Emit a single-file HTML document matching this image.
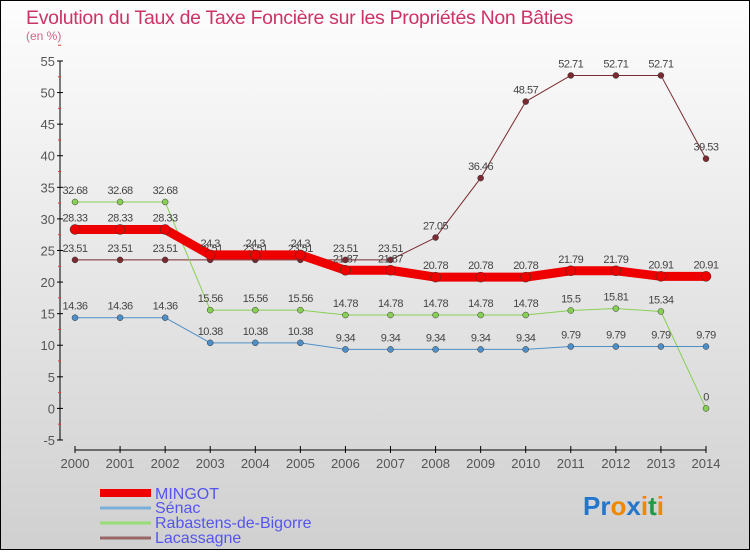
<!DOCTYPE html>
<html><head><meta charset="utf-8"><style>
body{margin:0;width:750px;height:550px;overflow:hidden;font-family:"Liberation Sans","DejaVu Sans",sans-serif}
svg text{font-family:"Liberation Sans","DejaVu Sans",sans-serif}
</style></head><body>
<svg width="750" height="550" xmlns="http://www.w3.org/2000/svg">
<defs><linearGradient id="bg" x1="0" y1="0" x2="0" y2="1"><stop offset="0" stop-color="#fdfdfd"/><stop offset="1" stop-color="#d0d0d0"/></linearGradient></defs>
<rect x="0.5" y="0.5" width="749" height="549" fill="url(#bg)" stroke="#000"/>
<text x="26" y="24" font-size="19.5" fill="#cc3366" letter-spacing="-0.3">Evolution du Taux de Taxe Foncière sur les Propriétés Non Bâties</text>
<text x="26" y="40" font-size="12" fill="#cc6688">(en %)</text>
<g id="axes"></g><g id="series"></g>
<g id="legend"></g>
<g font-size="26" font-weight="bold">
<text x="583" y="515"><tspan fill="#2277cc">Pr</tspan><tspan fill="#ee8800">o</tspan><tspan fill="#2277cc">x</tspan><tspan fill="#ee8800">i</tspan><tspan fill="#229944">t</tspan><tspan fill="#ee8800">i</tspan></text>
</g>
</svg>
<script>
const years=[2000,2001,2002,2003,2004,2005,2006,2007,2008,2009,2010,2011,2012,2013,2014];
const yTicks=[-5,0,5,10,15,20,25,30,35,40,45,50,55];
const mingot=[28.33,28.33,28.33,24.3,24.3,24.3,21.87,21.87,20.78,20.78,20.78,21.79,21.79,20.91,20.91];
const senac=[14.36,14.36,14.36,10.38,10.38,10.38,9.34,9.34,9.34,9.34,9.34,9.79,9.79,9.79,9.79];
const rabastens=[32.68,32.68,32.68,15.56,15.56,15.56,14.78,14.78,14.78,14.78,14.78,15.5,15.81,15.34,0];
const lacassagne=[23.51,23.51,23.51,23.51,23.51,23.51,23.51,23.51,27.05,36.46,48.57,52.71,52.71,52.71,39.53];
const NS="http://www.w3.org/2000/svg";
const X=i=>75+i*(631/14);
const Y=v=>408.4-v*(379/60);
function mk(tag,attrs,parent,txt){const e=document.createElementNS(NS,tag);for(const k in attrs)e.setAttribute(k,attrs[k]);if(txt!==undefined)e.textContent=txt;parent.appendChild(e);return e;}
const axes=document.getElementById('axes');
let ya=mk('line',{x1:60,y1:Y(55),x2:60,y2:Y(-5),stroke:'#000'},axes);


yTicks.forEach(t=>{
  mk('line',{x1:57,x2:63,y1:Y(t),y2:Y(t),stroke:'#000'},axes);
  mk('line',{x1:58,x2:61,y1:Y(t+2.5),y2:Y(t+2.5),stroke:'#e33'},axes);
  let l=mk('text',{x:55,y:Y(t)+5,'font-size':13,fill:'#555','text-anchor':'end'},axes,String(t));
  
  
});
let xa=mk('line',{x1:75,y1:450,x2:706,y2:450,stroke:'#000'},axes);


years.forEach((yr,i)=>{
  mk('line',{x1:X(i),x2:X(i),y1:446,y2:453,stroke:'#000'},axes);
  let l=mk('text',{x:X(i),y:468,'font-size':13,fill:'#555','text-anchor':'middle'},axes,String(yr));
  
  
});
const sg=document.getElementById('series');
function fmt(v){return String(v);}
function draw(data,color,width,r,name,labels){
  const g=mk('g',{},sg);
  
  
  const pl=mk('polyline',{points:data.map((v,i)=>X(i)+','+Y(v)).join(' '),fill:'none',stroke:color,'stroke-width':width,'stroke-linejoin':'round'},g);
  
  
  data.forEach((v,i)=>{
    const c=mk('circle',{cx:X(i),cy:Y(v),r:r,fill:color,stroke:'#333','stroke-width':0.5},g);
    
    
    if(labels){const t=mk('text',{x:X(i),y:Y(v)-8,'font-size':11,fill:'#444','text-anchor':'middle','letter-spacing':'-0.5'},g,fmt(v));
      
      }
  });
}
draw(lacassagne,'#7a2a30',1,3,'lacassagne',true);
draw(rabastens,'#88d055',1,3,'rabastens',true);
draw(senac,'#4f8fc8',1,3,'senac',true);
draw(mingot,'#ee0000',9,5,'mingot',true);
const lg=document.getElementById('legend');
const names=['MINGOT','Sénac','Rabastens-de-Bigorre','Lacassagne'];
const cols=['#ee0000','#7ab0d8','#99dd77','#996666'];
const widths=[8,3,3,3];
names.forEach((n,i)=>{
  const y=493+i*15;
  mk('line',{x1:100,x2:151,y1:y,y2:y,stroke:cols[i],'stroke-width':widths[i]},lg);
  const t=mk('text',{x:155,y:y+(i==0?6:5),'font-size':16,fill:'#5555ee'},lg,n);
  
  
});
</script>
</body></html>
